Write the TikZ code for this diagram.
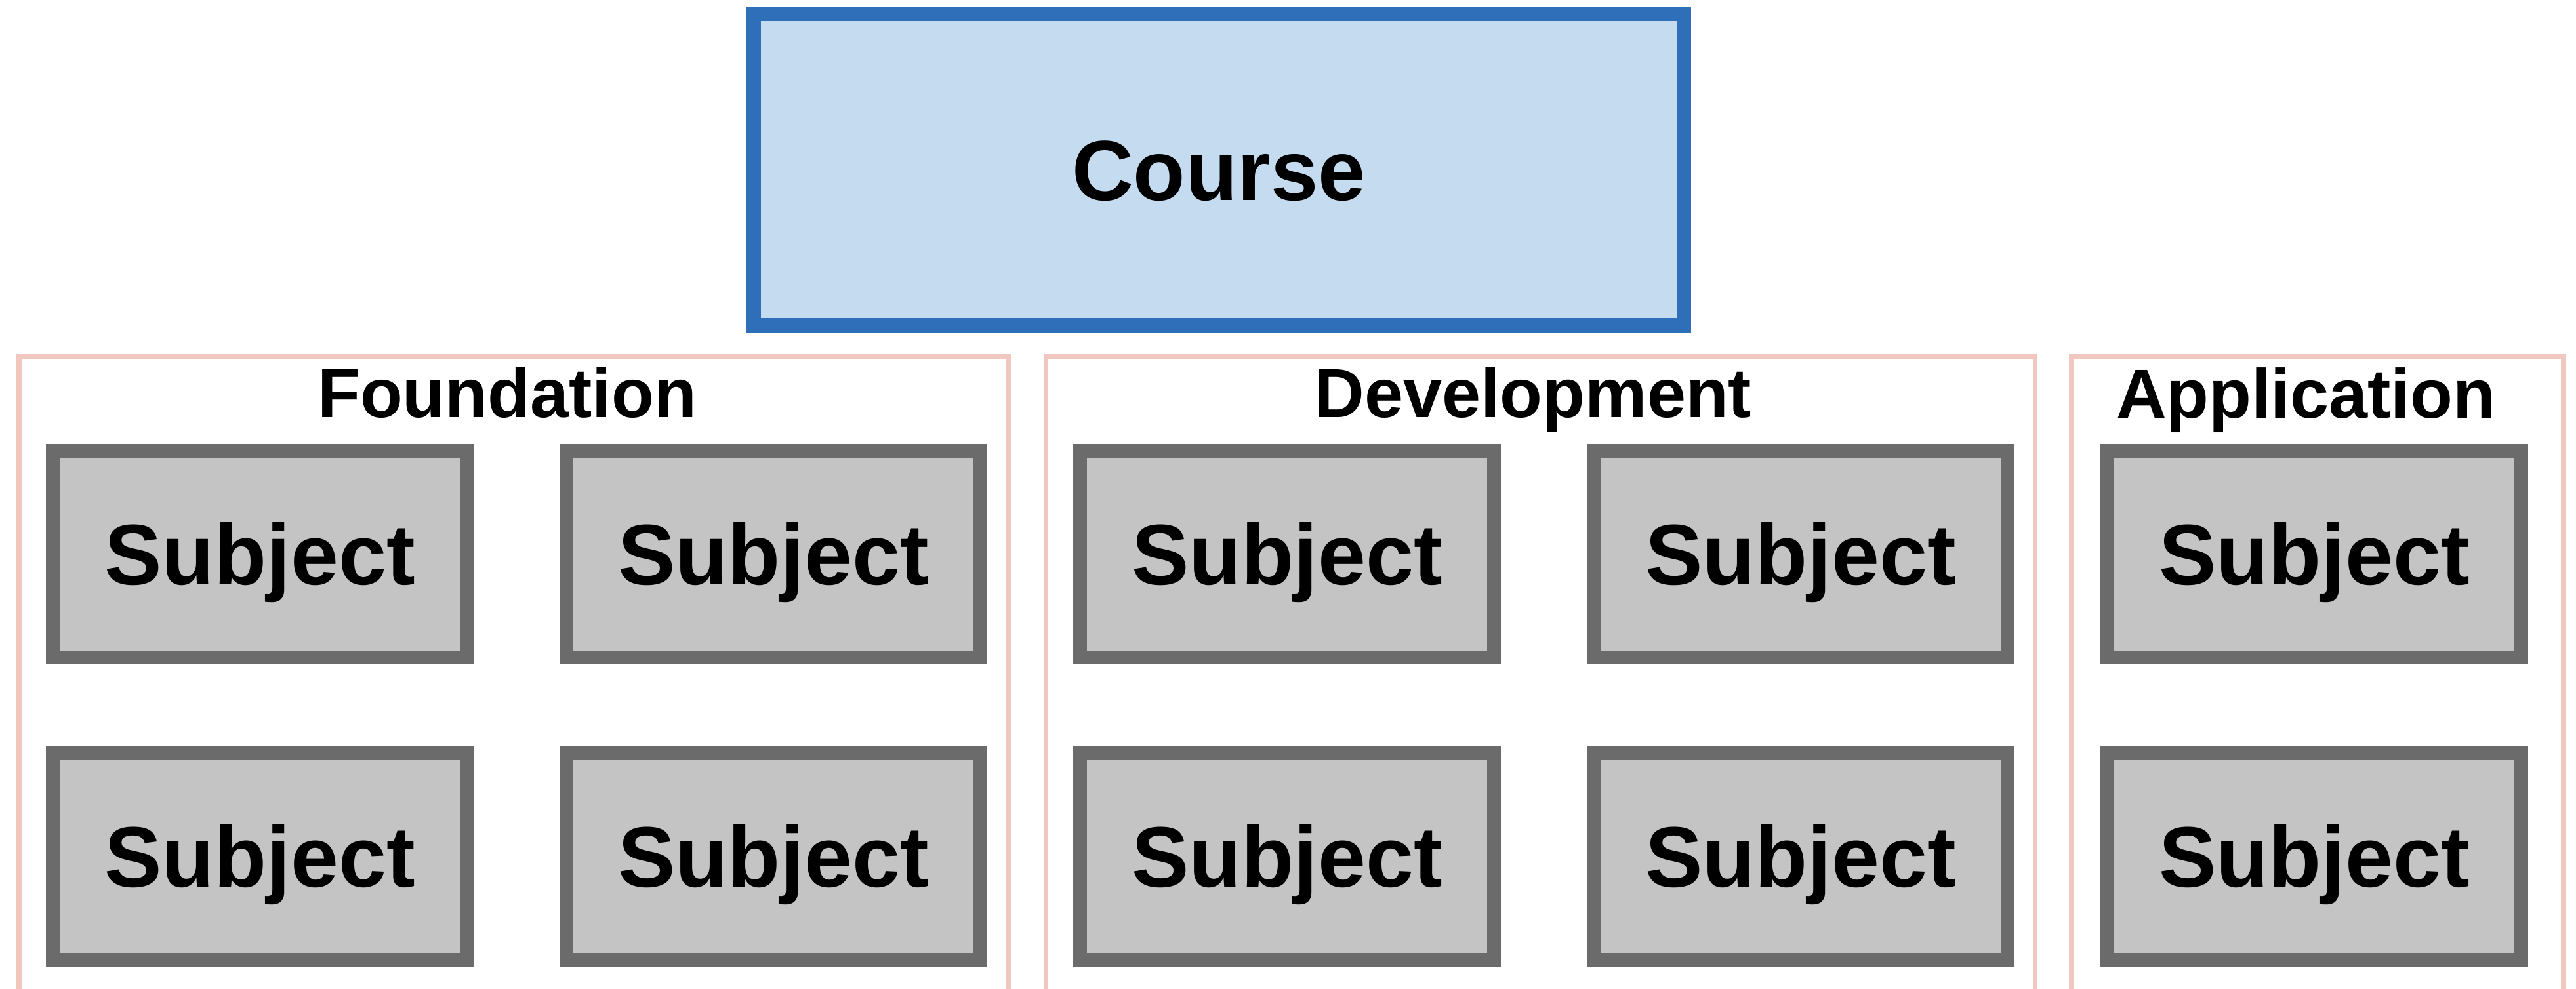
\documentclass[tikz,border=0pt]{standalone}
\usepackage{fontspec}
\setmainfont{Liberation Sans}
\definecolor{courseline}{HTML}{2F6EB8}
\definecolor{coursefill}{HTML}{C5DBEF}
\definecolor{subjline}{HTML}{6B6B6B}
\definecolor{subjfill}{HTML}{C4C4C4}
\definecolor{groupline}{HTML}{F0C8C0}
\begin{document}
\begin{tikzpicture}[
  subj/.style={draw=subjline, fill=subjfill, line width=0.21cm,
    minimum width=6.31cm, minimum height=3.15cm, inner sep=0pt,
    text height=0.938cm, text depth=0pt,
    font=\fontsize{37.3pt}{40pt}\selectfont\bfseries},
  coursebox/.style={draw=courseline, fill=coursefill, line width=0.22cm,
    minimum width=14.18cm, minimum height=4.75cm, inner sep=0pt,
    text height=0.931cm, text depth=0pt,
    font=\fontsize{37pt}{40pt}\selectfont\bfseries},
  groupbox/.style={draw=groupline, line width=0.07cm, inner sep=0pt,
    minimum height=10.17cm},
  grouplabel/.style={anchor=base, inner sep=0pt,
    font=\fontsize{30.2pt}{32pt}\selectfont\bfseries}
]
\useasboundingbox (0,0) rectangle (39.27,-15.07);
\clip (0,0) rectangle (39.27,-15.07);

% groups
\node[groupbox, minimum width=15.08cm] (gF) at (7.83,-10.515) {};
\node[groupbox, minimum width=15.08cm] (gD) at (23.48,-10.515) {};
\node[groupbox, minimum width=7.50cm]  (gA) at (35.32,-10.515) {};

\node[grouplabel] (lF) at (7.73,-6.36) {Foundation};
\node[grouplabel] (lD) at (23.37,-6.36) {Development};
\node[grouplabel] (lA) at (35.15,-6.37) {Application};

% course
\node[coursebox] (course) at (18.58,-2.585) {Course};

% subjects
\node[subj] (s11) at (3.96,-8.45) {Subject};
\node[subj] (s12) at (11.79,-8.45) {Subject};
\node[subj] (s13) at (19.62,-8.45) {Subject};
\node[subj] (s14) at (27.45,-8.45) {Subject};
\node[subj] (s15) at (35.28,-8.45) {Subject};
\node[subj] (s21) at (3.96,-13.055) {Subject};
\node[subj] (s22) at (11.79,-13.055) {Subject};
\node[subj] (s23) at (19.62,-13.055) {Subject};
\node[subj] (s24) at (27.45,-13.055) {Subject};
\node[subj] (s25) at (35.28,-13.055) {Subject};
\end{tikzpicture}
\end{document}
